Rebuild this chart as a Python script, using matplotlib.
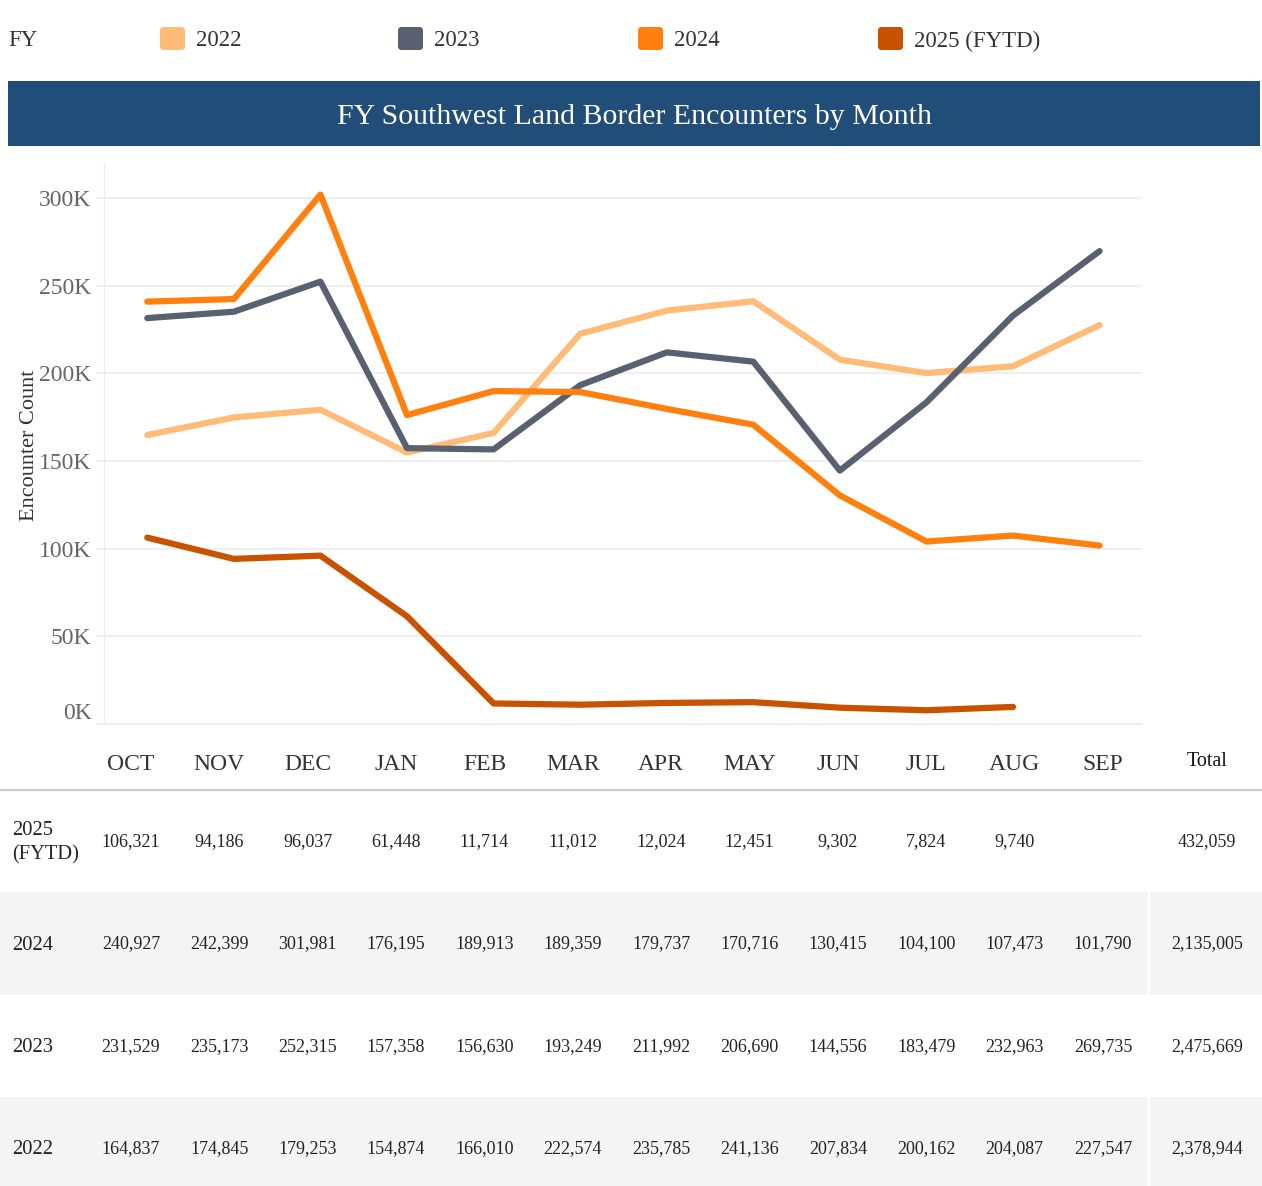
import matplotlib.pyplot as plt
from matplotlib.patches import Rectangle, FancyBboxPatch

plt.rcParams['font.family'] = ['Liberation Serif', 'DejaVu Serif']

months = ["OCT", "NOV", "DEC", "JAN", "FEB", "MAR", "APR", "MAY", "JUN", "JUL", "AUG", "SEP"]
fy2022 = [164837, 174845, 179253, 154874, 166010, 222574, 235785, 241136, 207834, 200162, 204087, 227547]
fy2023 = [231529, 235173, 252315, 157358, 156630, 193249, 211992, 206690, 144556, 183479, 232963, 269735]
fy2024 = [240927, 242399, 301981, 176195, 189913, 189359, 179737, 170716, 130415, 104100, 107473, 101790]
fy2025 = [106321, 94186, 96037, 61448, 11714, 11012, 12024, 12451, 9302, 7824, 9740]
totals = {"2025": "432,059", "2024": "2,135,005", "2023": "2,475,669", "2022": "2,378,944"}

years = ["2022", "2023", "2024", "2025 (FYTD)"]
series = [fy2022, fy2023, fy2024, fy2025]
colors = ["#ffbc79", "#596170", "#ff800e", "#c85200"]

yticks = [0, 50000, 100000, 150000, 200000, 250000, 300000]
ytick_labels = ["0K", "50K", "100K", "150K", "200K", "250K", "300K"]

W, H = 1262, 1186
fig = plt.figure(figsize=(W / 100, H / 100), dpi=100)


def fx(x):
    return x / W


def fy(y):
    return 1 - y / H


# ---- legend row
fig.text(fx(8), fy(41), "FY", ha="left", va="center", fontsize=16.5, color="#333333")
leg_x = [160, 398, 638, 878]
for x, lab, c in zip(leg_x, years, colors):
    fig.patches.append(FancyBboxPatch((fx(x), fy(50)), fx(25), fy(27) - fy(50),
                                      boxstyle="round,pad=0,rounding_size=0.003",
                                      transform=fig.transFigure, color=c, lw=0))
    fig.text(fx(x + 36), fy(41), lab, ha="left", va="center", fontsize=16.5, color="#333333")

# ---- title banner
fig.patches.append(Rectangle((fx(8), fy(146)), fx(1252), fy(81) - fy(146),
                             transform=fig.transFigure, color="#214e78", lw=0))
fig.text(fx(634), fy(117), "FY Southwest Land Border Encounters by Month",
         ha="center", va="center", fontsize=21.5, color="white")

# ---- chart
ax = fig.add_axes([fx(104), fy(724), fx(1142) - fx(104), fy(163) - fy(724)])
for vals, c in zip(series, colors):
    ax.plot(range(len(vals)), vals, color=c, lw=4.5,
            solid_capstyle="round", solid_joinstyle="round")

ax.set_xlim(-0.5, 11.49)
ax.set_ylim(0, 320000)
ax.set_yticks(yticks)
ax.set_yticklabels([])
ax.set_xticks([])
ax.tick_params(axis="y", length=6, color="#eeeeee", width=1.2)
ax.grid(axis="y", color="#eeeeee", lw=1.3)
for s in ["top", "right"]:
    ax.spines[s].set_visible(False)
for s in ["left", "bottom"]:
    ax.spines[s].set_color("#eeeeee")
    ax.spines[s].set_linewidth(1)
for v, lab in zip(yticks, ytick_labels):
    ax.text(-0.012, v, lab, transform=ax.get_yaxis_transform(), ha="right",
            va="bottom" if v == 0 else "center_baseline", fontsize=17, color="#666666")

fig.text(fx(30), fy(445), "Encounter Count", rotation=90, ha="center", va="center",
         fontsize=16, color="#333333")

# ---- table
fig.patches.append(Rectangle((0, fy(995)), 1, fy(892) - fy(995),
                             transform=fig.transFigure, color="#f4f4f4", lw=0))
fig.patches.append(Rectangle((0, 0), 1, fy(1097),
                             transform=fig.transFigure, color="#f4f4f4", lw=0))
fig.add_artist(plt.Line2D([fx(1149), fx(1149)], [0, fy(790)], transform=fig.transFigure,
                          color="white", lw=1.6))
fig.add_artist(plt.Line2D([0, fx(1148)], [fy(790), fy(790)], transform=fig.transFigure,
                          color="#cccccc", lw=1.6))
fig.add_artist(plt.Line2D([fx(1150), 1], [fy(790), fy(790)], transform=fig.transFigure,
                          color="#cccccc", lw=1.6))

col_x = [131 + 88.36 * i for i in range(len(months))]
for x, m in zip(col_x, months):
    fig.text(fx(x), fy(764), m, ha="center", va="center", fontsize=17, color="#333333")
fig.text(fx(1207), fy(762), "Total", ha="center", va="center", fontsize=14.5, color="#111111")

rows = [("2025\n(FYTD)", fy2025, totals["2025"], 840),
        ("2024", fy2024, totals["2024"], 942),
        ("2023", fy2023, totals["2023"], 1045),
        ("2022", fy2022, totals["2022"], 1147)]
for lab, vals, tot, y in rows:
    fig.text(fx(12), fy(y + 3), lab, ha="left", va="center", fontsize=14.8,
             color="#222222", linespacing=1.35)
    for x, v in zip(col_x, vals):
        fig.text(fx(x), fy(y + 2), f"{v:,}", ha="center", va="center", fontsize=13, color="#222222")
    fig.text(fx(1207), fy(y + 2), tot, ha="center", va="center", fontsize=13, color="#222222")

fig.savefig("out.png", dpi=100)
